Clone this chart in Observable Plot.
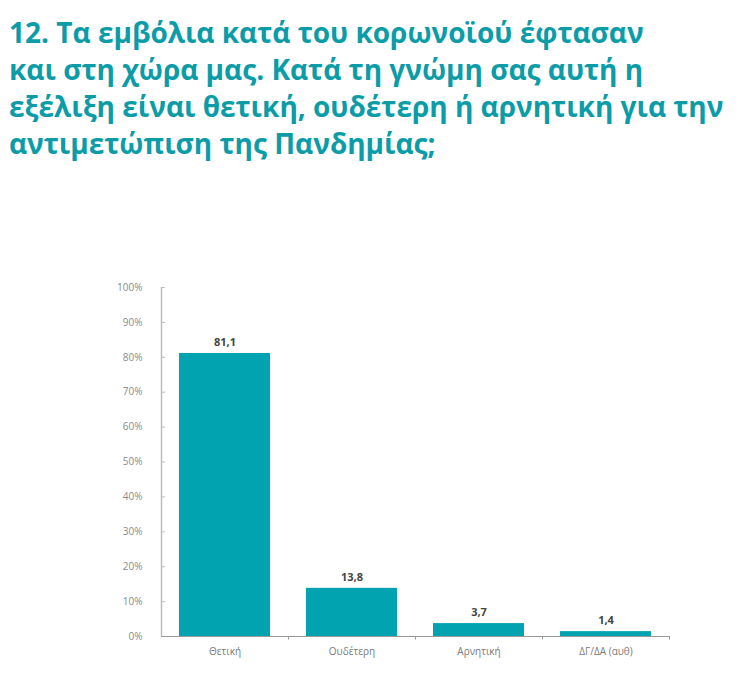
<!DOCTYPE html>
<html>
<head>
<meta charset="utf-8">
<script src="https://cdn.jsdelivr.net/npm/d3@7"></script>
<script src="https://cdn.jsdelivr.net/npm/@observablehq/plot@0.6"></script>
<style>
  html, body { margin: 0; padding: 0; background: #fff; }
  #title {
    height: 170px; box-sizing: border-box; padding: 14px 0 0 9px;
    font-family: "Open Sans", sans-serif; font-weight: 700; font-size: 28px;
    line-height: 37px; color: #0b9ca8; letter-spacing: 0;
  }
  #chart svg { display: block; }
</style>
</head>
<body>
<div id="title">12. Τα εμβόλια κατά του κορωνοϊού έφτασαν<br>και στη χώρα μας. Κατά τη γνώμη σας αυτή η<br>εξέλιξη είναι θετική, ουδέτερη ή αρνητική για την<br>αντιμετώπιση της Πανδημίας;</div>
<div id="chart"></div>
<script>
const categories = ["Θετική", "Ουδέτερη", "Αρνητική", "ΔΓ/ΔΑ (αυθ)"];
const values = [81.1, 13.8, 3.7, 1.4];
const yTicks = [0, 10, 20, 30, 40, 50, 60, 70, 80, 90, 100];

const data = categories.map((c, i) => ({category: c, value: values[i]}));
const fmt = v => v.toFixed(1).replace(".", ",");

const width = 740, height = 509;
const marginLeft = 161, marginRight = 71;
const plotW = width - marginLeft - marginRight;
const step = plotW / categories.length;

const chart = Plot.plot({
  width, height,
  marginTop: 117, marginBottom: 43, marginLeft, marginRight,
  style: {fontFamily: "'Open Sans', sans-serif", background: "#fff"},
  x: {domain: categories, paddingInner: 0.28, paddingOuter: 0.14, label: null},
  y: {domain: [0, 100], label: null},
  marks: [
    Plot.barY(data, {x: "category", y: "value", fill: "#00a3af"}),
    // y axis line
    Plot.ruleX([categories[0]], {x: d => d, y1: 0, y2: 100, dx: -step / 2, stroke: "#bdbdbd", strokeWidth: 1.5}),
    // y ticks pointing inward
    Plot.ruleY(yTicks.slice(1), {y: d => d, insetRight: plotW - 4, stroke: "#bdbdbd"}),
    // x axis line and boundary ticks
    Plot.ruleY([0], {stroke: "#9a9a9a", strokeWidth: 1.2}),
    Plot.ruleX(categories, {x: d => d, y1: 0, y2: -1, dx: step / 2, stroke: "#9a9a9a"}),
    Plot.axisY(yTicks, {
      anchor: "left", tickSize: 0, tickPadding: 19,
      tickFormat: d => d + "%", fontSize: 10, fill: "#8a8a8a"
    }),
    Plot.axisX({tickSize: 0, tickPadding: 11, fontSize: 10, fill: "#7a7a7a"}),
    Plot.text(data, {x: "category", y: "value", text: d => fmt(d.value), dy: -11,
      fontSize: 11, fontWeight: "bold", fill: "#444"})
  ]
});
document.getElementById("chart").append(chart);
</script>
</body>
</html>
